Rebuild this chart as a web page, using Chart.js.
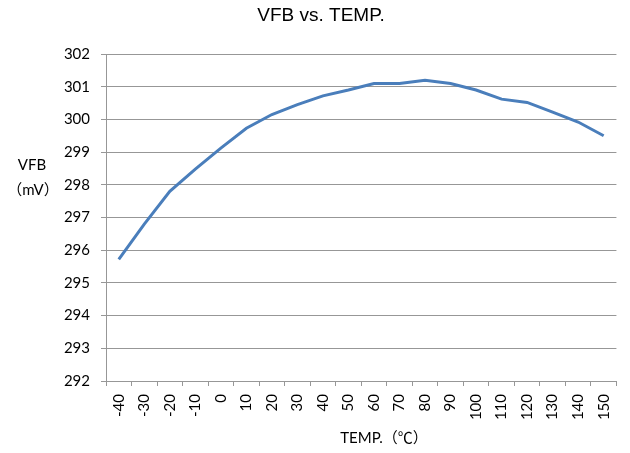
<!DOCTYPE html>
<html>
<head>
<meta charset="utf-8">
<script src="https://cdn.jsdelivr.net/npm/chart.js@4/dist/chart.umd.min.js"></script>
<style>
    html, body { margin: 0; padding: 0; background: #ffffff; }
    #wrap { width: 630px; height: 453px; }
</style>
</head>
<body>
<div id="wrap"><canvas id="vfbChart" width="630" height="453"></canvas></div>
<script>
// Datos
const temps = ['-40', '-30', '-20', '-10', '0', '10', '20', '30', '40', '50',
               '60', '70', '80', '90', '100', '110', '120', '130', '140', '150'];
const vfb = [295.72, 296.8, 297.8, 298.48, 299.12, 299.73, 300.15, 300.45, 300.72, 300.9,
             301.1, 301.1, 301.2, 301.1, 300.9, 300.62, 300.52, 300.22, 299.92, 299.5];
const yTicks = { min: 292, max: 302, step: 1 };

const titleText = 'VFB vs. TEMP.';
const yTitle = ['VFB', '（mV）'];
const xTitle = 'TEMP.（℃）';

const gridColor = '#979797';
const lineColor = '#4a7ebb';
const tickFont = { family: 'Lato', size: 15 };

// Textos del título y de los ejes
const labelsPlugin = {
    id: 'labels',
    afterDraw(chart) {
        const ctx = chart.ctx;
        const area = chart.chartArea;
        ctx.save();
        ctx.fillStyle = '#000000';
        ctx.textAlign = 'center';
        ctx.textBaseline = 'middle';

        ctx.font = '19px "Liberation Sans", Arial, sans-serif';
        ctx.fillText(titleText, 321, 16);

        ctx.font = '15px Lato, sans-serif';
        ctx.fillText(yTitle[0], 32, 165);
        ctx.font = '15px Lato, "Noto Sans CJK SC", sans-serif';
        ctx.fillText(yTitle[1], 33, 190);

        ctx.fillText(xTitle, 384, area.bottom + 57);
        ctx.restore();
    }
};

new Chart(document.getElementById('vfbChart').getContext('2d'), {
    type: 'line',
    data: {
        labels: temps,
        datasets: [{
            label: 'VFB',
            data: vfb,
            borderColor: lineColor,
            borderWidth: 3,
            pointRadius: 0,
            tension: 0,
            fill: false
        }]
    },
    options: {
        responsive: false,
        animation: false,
        layout: { padding: { top: 54, right: 13, bottom: 0, left: 0 } },
        plugins: {
            legend: { display: false },
            title: { display: false },
            tooltip: { enabled: false }
        },
        scales: {
            x: {
                type: 'category',
                offset: true,
                afterFit(scale) { scale.height = 72; },
                border: { display: true, color: gridColor, width: 1 },
                grid: {
                    offset: true,
                    drawOnChartArea: false,
                    drawTicks: true,
                    tickLength: 5,
                    color: gridColor
                },
                ticks: {
                    color: '#000000',
                    font: tickFont,
                    minRotation: 90,
                    maxRotation: 90,
                    padding: 8,
                    autoSkip: false
                }
            },
            y: {
                min: yTicks.min,
                max: yTicks.max,
                afterFit(scale) { scale.width = 106; },
                border: { display: true, color: gridColor, width: 1 },
                grid: {
                    color: gridColor,
                    drawTicks: true,
                    tickLength: 5
                },
                ticks: {
                    stepSize: yTicks.step,
                    color: '#000000',
                    font: tickFont,
                    padding: 11
                }
            }
        }
    },
    plugins: [labelsPlugin]
});
</script>
</body>
</html>
